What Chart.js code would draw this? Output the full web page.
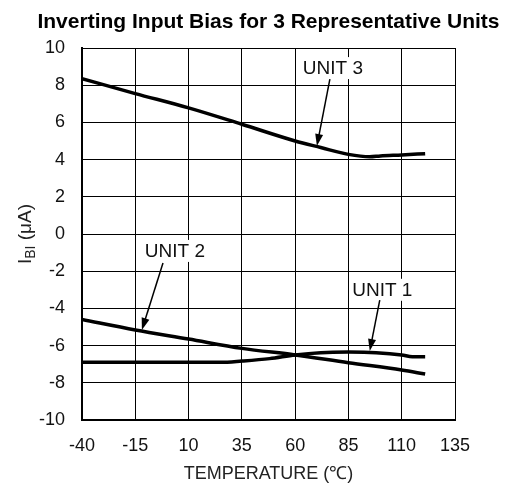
<!DOCTYPE html>
<html lang="en">
<head>
  <meta charset="utf-8">
  <title>Inverting Input Bias for 3 Representative Units</title>
  <style type="text/css">
    html, body { margin: 0; padding: 0; background: #fff; overflow: hidden; }
    #biasChart { display: block; }
  </style>
</head>
<body>
  <canvas id="biasChart" width="508" height="485"></canvas>

  <script src="https://cdn.jsdelivr.net/npm/chart.js"></script>
  <script>
    // values (temperature in C, bias in uA)
    const xTicks = [-40, -15, 10, 35, 60, 85, 110, 135];
    const yTicks = [-10, -8, -6, -4, -2, 0, 2, 4, 6, 8, 10];

    const unit1Temp = [-40, -15, 10, 25, 35, 48, 60, 72, 85, 98, 110, 115, 121];
    const unit1Bias = [-6.9, -6.9, -6.9, -6.9, -6.83, -6.7, -6.5, -6.38, -6.35, -6.38, -6.5, -6.6, -6.6];

    const unit2Temp = [-40, -15, 10, 35, 60, 85, 110, 121];
    const unit2Bias = [-4.6, -5.16, -5.65, -6.15, -6.5, -6.92, -7.31, -7.53];

    const unit3Temp = [-40, -15, 10, 35, 60, 72, 85, 95, 100, 110, 121];
    const unit3Bias = [8.35, 7.55, 6.78, 5.9, 5.0, 4.65, 4.28, 4.15, 4.2, 4.25, 4.32];

    // callouts, in data units
    const calloutText = ["UNIT 3", "UNIT 2", "UNIT 1"];
    const calloutAt = [[77.7, 8.92], [3.6, -0.91], [100.9, -3.0]];
    const arrowFrom = [[76.3, 8.33], [-2.0, -1.56], [99.7, -3.55]];
    const arrowTo = [[70.2, 4.73], [-11.9, -5.16], [95.0, -6.29]];

    const FONT = "'Liberation Sans', Arial, sans-serif";

    function toPoints(xs, ys) {
      return xs.map((x, i) => ({ x: x, y: ys[i] }));
    }

    function lineSet(label, xs, ys) {
      return {
        label: label,
        data: toPoints(xs, ys),
        showLine: true,
        borderColor: "#000",
        borderWidth: 3.5,
        pointRadius: 0,
        fill: false,
        cubicInterpolationMode: "monotone"
      };
    }

    // title, y axis label with subscript, and the unit callouts
    const extrasPlugin = {
      id: "extras",
      afterDraw(chart) {
        const ctx = chart.ctx;
        const area = chart.chartArea;
        const xs = chart.scales.x, ys = chart.scales.y;
        ctx.save();

        ctx.fillStyle = "#000";
        ctx.font = "bold 21px " + FONT;
        ctx.textAlign = "center";
        ctx.textBaseline = "middle";
        ctx.fillText("Inverting Input Bias for 3 Representative Units", (area.left + area.right) / 2, 22);

        // rotated y title: I + subscript BI + (uA)
        ctx.translate(26, (area.top + area.bottom) / 2);
        ctx.rotate(-Math.PI / 2);
        ctx.fillStyle = "#222";
        const big = "19px " + FONT, small = "14px " + FONT;
        ctx.font = big;
        const w1 = ctx.measureText("I").width;
        const w3 = ctx.measureText(" (\u03bcA)").width;
        ctx.font = small;
        const w2 = ctx.measureText("BI").width;
        let x0 = -(w1 + w2 + w3) / 2;
        ctx.textAlign = "left";
        ctx.font = big;
        ctx.fillText("I", x0, 0);
        ctx.font = small;
        ctx.fillText("BI", x0 + w1, 5);
        ctx.font = big;
        ctx.fillText(" (\u03bcA)", x0 + w1 + w2, 0);
        ctx.restore();

        ctx.save();
        ctx.font = "19px " + FONT;
        ctx.textAlign = "center";
        ctx.textBaseline = "middle";
        calloutText.forEach((t, i) => {
          const cx = xs.getPixelForValue(calloutAt[i][0]);
          const cy = ys.getPixelForValue(calloutAt[i][1]);
          const w = ctx.measureText(t).width;
          ctx.fillStyle = "#fff";
          ctx.fillRect(cx - w / 2 - 2, cy - 11, w + 4, 22);
          ctx.fillStyle = "#111";
          ctx.fillText(t, cx, cy + 1);

          const ax = xs.getPixelForValue(arrowFrom[i][0]);
          const ay = ys.getPixelForValue(arrowFrom[i][1]);
          const bx = xs.getPixelForValue(arrowTo[i][0]);
          const by = ys.getPixelForValue(arrowTo[i][1]);
          const ang = Math.atan2(by - ay, bx - ax);
          ctx.strokeStyle = "#000";
          ctx.lineWidth = 1.5;
          ctx.beginPath();
          ctx.moveTo(ax, ay);
          ctx.lineTo(bx - 6 * Math.cos(ang), by - 6 * Math.sin(ang));
          ctx.stroke();
          ctx.fillStyle = "#000";
          ctx.beginPath();
          ctx.moveTo(bx, by);
          ctx.lineTo(bx - 12 * Math.cos(ang) + 4 * Math.sin(ang), by - 12 * Math.sin(ang) - 4 * Math.cos(ang));
          ctx.lineTo(bx - 12 * Math.cos(ang) - 4 * Math.sin(ang), by - 12 * Math.sin(ang) + 4 * Math.cos(ang));
          ctx.closePath();
          ctx.fill();
        });
        ctx.restore();
      }
    };

    const chart = new Chart(document.getElementById("biasChart"), {
      type: "scatter",
      data: {
        datasets: [
          lineSet("UNIT 1", unit1Temp, unit1Bias),
          lineSet("UNIT 2", unit2Temp, unit2Bias),
          lineSet("UNIT 3", unit3Temp, unit3Bias)
        ]
      },
      options: {
        responsive: false,
        animation: false,
        devicePixelRatio: 1,
        layout: { padding: { top: 48, right: 53, left: 0, bottom: 0 } },
        plugins: {
          legend: { display: false },
          tooltip: { enabled: false },
          title: { display: false }
        },
        scales: {
          x: {
            type: "linear",
            min: -40,
            max: 135,
            afterBuildTicks: (s) => { s.ticks = xTicks.map(v => ({ value: v })); },
            afterFit: (s) => { s.height = 65; },
            grid: { color: "#000", lineWidth: 1, drawTicks: false },
            border: { color: "#000", width: 2 },
            ticks: { color: "#111", padding: 15, autoSkip: false, maxRotation: 0, font: { family: FONT, size: 18 } },
            title: {
              display: true,
              text: "TEMPERATURE (\u2103)",
              color: "#222",
              padding: { top: 0, bottom: 0 },
              font: { family: FONT, size: 18 }
            }
          },
          y: {
            type: "linear",
            min: -10,
            max: 10,
            afterBuildTicks: (s) => { s.ticks = yTicks.map(v => ({ value: v })); },
            afterFit: (s) => { s.width = 82; },
            grid: { color: "#000", lineWidth: 1, drawTicks: false },
            border: { color: "#000", width: 2 },
            ticks: { color: "#111", padding: 17, autoSkip: false, font: { family: FONT, size: 18 } }
          }
        }
      },
      plugins: [extrasPlugin]
    });
  </script>
</body>
</html>
